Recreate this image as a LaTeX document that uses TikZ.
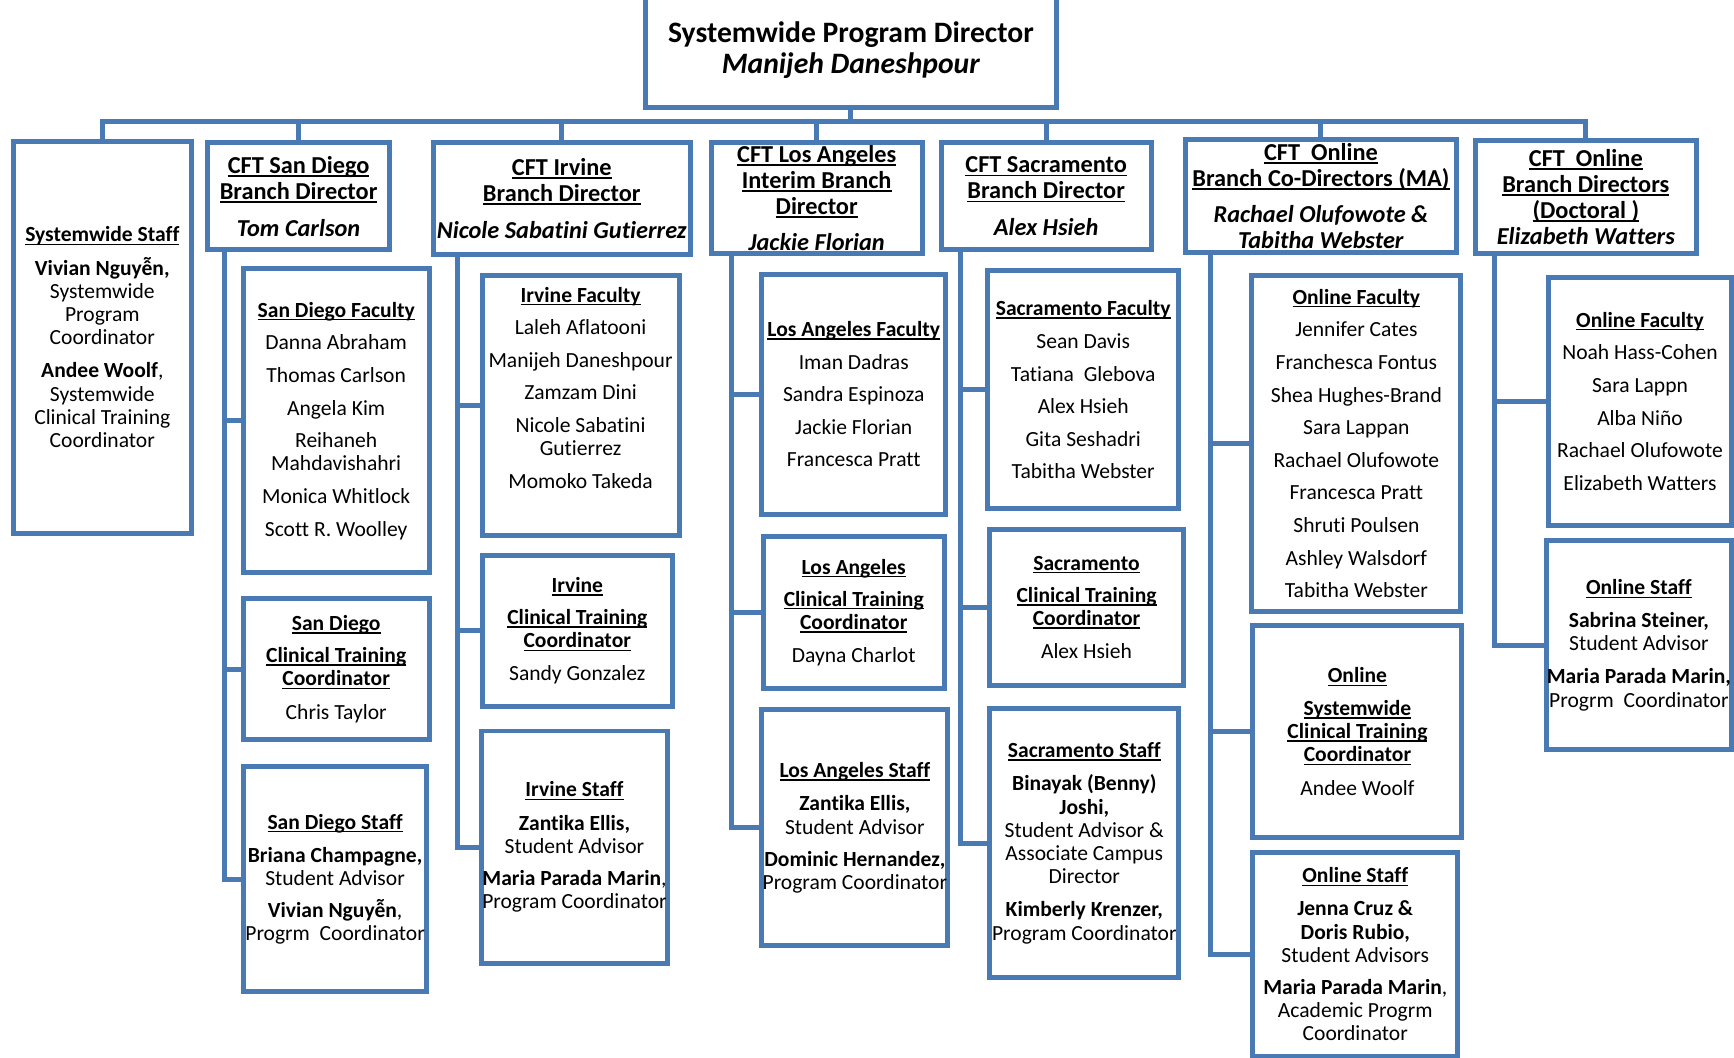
\documentclass[tikz,border=0pt]{standalone}
\usepackage{fontspec}
\setmainfont{Carlito}[Ligatures=NoCommon]
\usepackage{tikz}
\usepackage{xcolor}
\definecolor{chart_blue}{HTML}{4A7AB4}

% bold heading line with an underline that runs through the descenders
\newcommand{\hdr}[1]{\setbox0=\hbox{\bfseries #1}\rlap{\rule[-0.14em]{\wd0}{0.06em}}\box0}

\begin{document}
\begin{tikzpicture}[
    % --- Global Settings ---
    % One unit is one point and y runs down the page
    x=1pt, y=-1pt,
    % Text is centred, boxes get their size from minimum width/height
    every node/.style={inner sep=0pt, align=center}
  ]

  % --- Style Definitions ---
  \tikzset{
    % Box of the chart (blue frame, white inside)
    unitbox/.style={
      draw=chart_blue,
      line width=4.5pt,
      fill=white
    },
    % Font sizes of the three levels
    topfont/.style={font=\fontsize{26.8}{28}\selectfont},
    headfont/.style={font=\fontsize{22}{23.5}\selectfont},
    bodyfont/.style={font=\fontsize{19.5}{21}\selectfont},
    % Connector lines
    orgline/.style={
      draw=chart_blue,
      line width=4.5pt
    }
  }

  \useasboundingbox (0, 0) rectangle (1568, 956);

  % --- Node Placement ---
  % Director at the top (upper edge runs off the page)
  \node[unitbox, topfont, minimum width=371pt, minimum height=104pt] (director) at (769.5, 45)
    {\textbf{Systemwide Program Director}\\\textbf{\textit{Manijeh Daneshpour}}};

  % Second level
  \node[unitbox, bodyfont, minimum width=161pt, minimum height=354pt] (sysstaff) at (92.5, 305)
    {\hdr{Systemwide Staff}\\[9pt]
     \textbf{Vivian Nguyễn,}\\Systemwide\\Program\\Coordinator\\[9pt]
     \textbf{Andee Woolf},\\Systemwide\\Clinical Training\\Coordinator};

  \node[unitbox, headfont, minimum width=164pt, minimum height=97pt] (sandiego) at (270, 177.5)
    {\hdr{CFT San Diego}\\\hdr{Branch Director}\\[10pt]\textbf{\textit{Tom Carlson}}};

  \node[unitbox, headfont, minimum width=232pt, minimum height=101pt] (irvine) at (508, 179.5)
    {\hdr{CFT Irvine}\\\hdr{Branch Director}\\[10pt]\textbf{\textit{Nicole Sabatini Gutierrez}}};

  \node[unitbox, headfont, minimum width=191pt, minimum height=100pt] (losangeles) at (738.5, 179)
    {\hdr{CFT Los Angeles}\\\hdr{Interim Branch}\\\hdr{Director}\\[9pt]\textbf{\textit{Jackie Florian}}};

  \node[unitbox, headfont, minimum width=190pt, minimum height=97pt] (sacramento) at (946, 177.5)
    {\hdr{CFT Sacramento}\\\hdr{Branch Director}\\[10pt]\textbf{\textit{Alex Hsieh}}};

  \node[unitbox, headfont, minimum width=245pt, minimum height=102pt] (onlinema) at (1194.5, 177)
    {\hdr{CFT~~Online}\\\hdr{Branch Co-Directors (MA)}\\[9pt]
     \textbf{\textit{Rachael Olufowote \&}}\\\textbf{\textit{Tabitha Webster}}};

  \node[unitbox, headfont, minimum width=200pt, minimum height=102pt] (onlinedoc) at (1434, 178)
    {\hdr{CFT~~Online}\\\hdr{Branch Directors}\\\hdr{(Doctoral )}\\\textbf{\textit{Elizabeth Watters}}};

  % San Diego column
  \node[unitbox, bodyfont, minimum width=168pt, minimum height=275pt] (sdfaculty) at (304, 380.5)
    {\hdr{San Diego Faculty}\\[8.5pt]Danna Abraham\\[8.5pt]Thomas Carlson\\[8.5pt]Angela Kim\\[8.5pt]
     Reihaneh\\Mahdavishahri\\[8.5pt]Monica Whitlock\\[8.5pt]Scott R. Woolley};

  \node[unitbox, bodyfont, minimum width=168pt, minimum height=128pt] (sdctc) at (304, 605)
    {\hdr{San Diego}\\[8pt]\hdr{Clinical Training}\\\hdr{Coordinator}\\[9pt]Chris Taylor};

  \node[unitbox, bodyfont, minimum width=166pt, minimum height=204pt] (sdstaff) at (303, 795)
    {\hdr{San Diego Staff}\\[9pt]\textbf{Briana Champagne,}\\Student Advisor\\[8pt]
     \textbf{Vivian Nguyễn},\\Progrm~~Coordinator};

  % Irvine column
  \node[unitbox, bodyfont, minimum width=178pt, minimum height=235pt] (irvfaculty) at (525, 366.5)
    {\hdr{Irvine Faculty}\\[8.5pt]Laleh Aflatooni\\[8.5pt]Manijeh Daneshpour\\[8.5pt]Zamzam Dini\\[8.5pt]
     Nicole Sabatini\\Gutierrez\\[8.5pt]Momoko Takeda\\[11pt]\mbox{}};

  \node[unitbox, bodyfont, minimum width=172pt, minimum height=137pt] (irvctc) at (522, 570.5)
    {\hdr{Irvine}\\[8pt]\hdr{Clinical Training}\\\hdr{Coordinator}\\[9pt]Sandy Gonzalez};

  \node[unitbox, bodyfont, minimum width=169pt, minimum height=210pt] (irvstaff) at (519.5, 766)
    {\hdr{Irvine Staff}\\[9pt]\textbf{Zantika Ellis,}\\Student Advisor\\[8pt]
     \textbf{Maria Parada Marin},\\Program Coordinator};

  % Los Angeles column
  \node[unitbox, bodyfont, minimum width=166pt, minimum height=217pt] (lafaculty) at (772, 356.5)
    {\hdr{Los Angeles Faculty}\\[8.5pt]Iman Dadras\\[8.5pt]Sandra Espinoza\\[8.5pt]Jackie Florian\\[8.5pt]
     Francesca Pratt};

  \node[unitbox, bodyfont, minimum width=164pt, minimum height=138pt] (lactc) at (772, 554)
    {\hdr{Los Angeles}\\[8pt]\hdr{Clinical Training}\\\hdr{Coordinator}\\[9pt]Dayna Charlot};

  \node[unitbox, bodyfont, minimum width=168pt, minimum height=213pt] (lastaff) at (773, 748.5)
    {\hdr{Los Angeles Staff}\\[9pt]\textbf{Zantika Ellis,}\\Student Advisor\\[8pt]
     \textbf{Dominic Hernandez,}\\Program Coordinator};

  % Sacramento column
  \node[unitbox, bodyfont, minimum width=173pt, minimum height=215pt] (sacfaculty) at (979.5, 352.5)
    {\hdr{Sacramento Faculty}\\[8.5pt]Sean Davis\\[8.5pt]Tatiana~~Glebova\\[8.5pt]Alex Hsieh\\[8.5pt]
     Gita Seshadri\\[8.5pt]Tabitha Webster};

  \node[unitbox, bodyfont, minimum width=175pt, minimum height=141pt] (sacctc) at (982.5, 549.5)
    {\hdr{Sacramento}\\[8pt]\hdr{Clinical Training}\\\hdr{Coordinator}\\[9pt]Alex Hsieh};

  \node[unitbox, bodyfont, minimum width=171pt, minimum height=243pt] (sacstaff) at (980.5, 762.5)
    {\hdr{Sacramento Staff}\\[9pt]\textbf{Binayak (Benny)}\\\textbf{Joshi,}\\Student Advisor \&\\
     Associate Campus\\Director\\[9pt]\textbf{Kimberly Krenzer,}\\Program Coordinator};

  % Online (MA) column
  \node[unitbox, bodyfont, minimum width=189pt, minimum height=304pt] (mafaculty) at (1226.5, 401)
    {\hdr{Online Faculty}\\[8.5pt]Jennifer Cates\\[8.5pt]Franchesca Fontus\\[8.5pt]Shea Hughes-Brand\\[8.5pt]
     Sara Lappan\\[8.5pt]Rachael Olufowote\\[8.5pt]Francesca Pratt\\[8.5pt]Shruti Poulsen\\[8.5pt]
     Ashley Walsdorf\\[8.5pt]Tabitha Webster};

  \node[unitbox, bodyfont, minimum width=189pt, minimum height=191pt] (mactc) at (1227.5, 661.5)
    {\hdr{Online}\\[8.5pt]\hdr{Systemwide}\\\hdr{Clinical Training}\\\hdr{Coordinator}\\[9pt]Andee Woolf};

  \node[unitbox, bodyfont, minimum width=185pt, minimum height=184pt] (mastaff) at (1225.5, 863)
    {\hdr{Online Staff}\\[9pt]\textbf{Jenna Cruz \&}\\\textbf{Doris Rubio,}\\Student Advisors\\[8pt]
     \textbf{Maria Parada Marin},\\Academic Progrm\\Coordinator};

  % Online (Doctoral) column
  \node[unitbox, bodyfont, minimum width=166pt, minimum height=224pt] (docfaculty) at (1483, 363)
    {\hdr{Online Faculty}\\[8.5pt]Noah Hass-Cohen\\[8.5pt]Sara Lappn\\[8.5pt]Alba Niño\\[8.5pt]
     Rachael Olufowote\\[8.5pt]Elizabeth Watters};

  \node[unitbox, bodyfont, minimum width=164pt, minimum height=189pt] (docstaff) at (1482, 583.5)
    {\hdr{Online Staff}\\[8.5pt]\textbf{Sabrina Steiner,}\\Student Advisor\\[9pt]
     \textbf{Maria Parada Marin,}\\Progrm~~Coordinator};

  % --- Path Drawing ---
  % Stem from the director down to the long bar, then one drop per branch
  \coordinate (bar) at (769.5, 110);
  \draw[orgline] (director.south) -- (bar);
  \draw[orgline] (bar) -| (sysstaff.north);
  \draw[orgline] (bar) -| (sandiego.north);
  \draw[orgline] (bar) -| (irvine.north);
  \draw[orgline] (bar) -| (losangeles.north);
  \draw[orgline] (bar) -| (sacramento.north);
  \draw[orgline] (bar) -| (onlinema.north);
  \draw[orgline] (bar) -| (onlinedoc.north);

  % Spines on the left of each branch, with a tee into every box below
  \coordinate (sdspine) at ([xshift=17pt]sandiego.south west);
  \draw[orgline] (sdspine) |- (sdfaculty.west);
  \draw[orgline] (sdspine) |- (sdctc.west);
  \draw[orgline] (sdspine) |- (sdstaff.west);

  \coordinate (irvspine) at ([xshift=24pt]irvine.south west);
  \draw[orgline] (irvspine) |- (irvfaculty.west);
  \draw[orgline] (irvspine) |- (irvctc.west);
  \draw[orgline] (irvspine) |- (irvstaff.west);

  \coordinate (laspine) at ([xshift=21pt]losangeles.south west);
  \draw[orgline] (laspine) |- (lafaculty.west);
  \draw[orgline] (laspine) |- (lactc.west);
  \draw[orgline] (laspine) |- (lastaff.west);

  \coordinate (sacspine) at ([xshift=20pt]sacramento.south west);
  \draw[orgline] (sacspine) |- (sacfaculty.west);
  \draw[orgline] (sacspine) |- (sacctc.west);
  \draw[orgline] (sacspine) |- (sacstaff.west);

  \coordinate (maspine) at ([xshift=25pt]onlinema.south west);
  \draw[orgline] (maspine) |- (mafaculty.west);
  \draw[orgline] (maspine) |- (mactc.west);
  \draw[orgline] (maspine) |- (mastaff.west);

  \coordinate (docspine) at ([xshift=20pt]onlinedoc.south west);
  \draw[orgline] (docspine) |- (docfaculty.west);
  \draw[orgline] (docspine) |- (docstaff.west);

\end{tikzpicture}
\end{document}
